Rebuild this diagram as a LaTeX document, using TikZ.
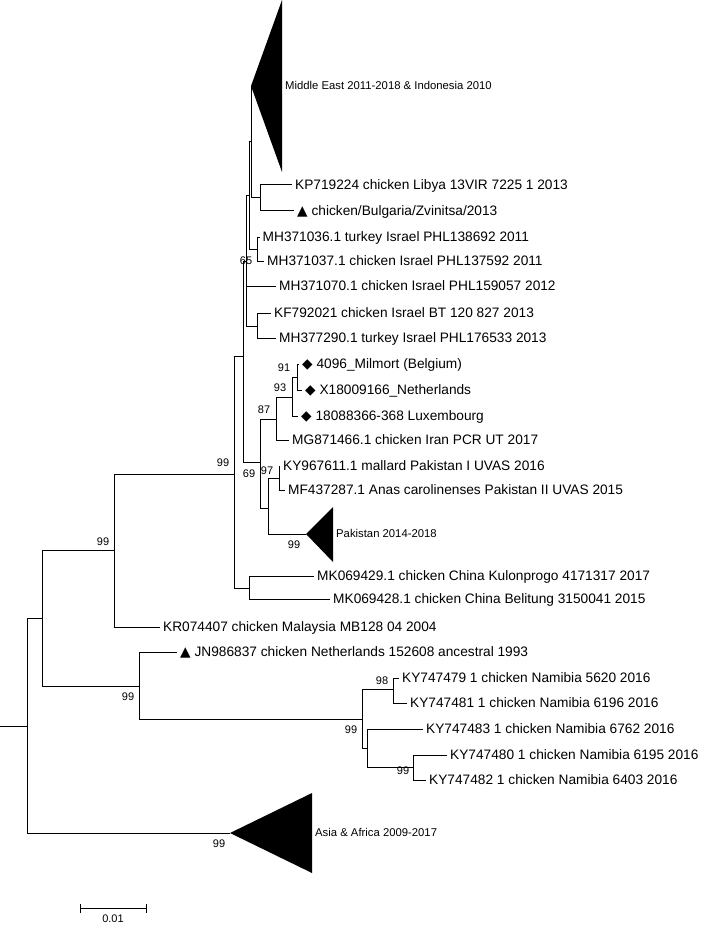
\documentclass[tikz,border=0pt]{standalone}
\usepackage{fontspec}
\setmainfont{Liberation Sans}
\newfontfamily\symb{DejaVu Sans}
\usetikzlibrary{positioning}

\begin{document}
\begin{tikzpicture}[x=1pt, y=-1pt,
        ast/.style={draw=black, line width=1pt},
        blatt/.style={anchor=west, inner sep=3pt, text height=9.8pt, text depth=0pt,
                      font=\fontsize{13.7}{15}\selectfont},
        stuetze/.style={inner sep=0pt, text height=7.9pt, text depth=0pt,
                        font=\fontsize{11}{12}\selectfont},
        klade/.style={anchor=west, inner sep=2pt, text height=7.9pt, text depth=0pt,
                      font=\fontsize{11.3}{12}\selectfont},
        klad/.style={fill=black}
    ]
        \useasboundingbox (0,0) rectangle (709,925);

        % innere Knoten
        \coordinate (w)   at (0,726);
        \coordinate (r)   at (27,726);
        \coordinate (a)   at (42,618);
        \coordinate (b)   at (114,550);
        \coordinate (c)   at (139,686);
        \coordinate (d)   at (234,474);
        \coordinate (e)   at (243,356);
        \coordinate (h)   at (246,261);
        \coordinate (i)   at (249,196);
        \coordinate (g)   at (251,142);
        \coordinate (kpn) at (260,198);
        \coordinate (ip)  at (257,249);
        \coordinate (kfn) at (257,326);
        \coordinate (f)   at (260,462);
        \coordinate (j)   at (276,419);
        \coordinate (k)   at (292,397);
        \coordinate (l)   at (297,377);
        \coordinate (m)   at (268,508);
        \coordinate (nn)  at (279,478);
        \coordinate (mk)  at (249,588);
        \coordinate (o)   at (362,719);
        \coordinate (p)   at (393,689);
        \coordinate (q)   at (367,748);
        \coordinate (rr)  at (413,767);
        \coordinate (me)  at (251,86);
        \coordinate (pak) at (306,534);
        \coordinate (asia)at (230,833);

        % kollabierte Kladen
        \fill[klad] (me) -- (282,0) -- (282,172) -- cycle;
        \fill[klad] (pak) -- (333,507) -- (333,562) -- cycle;
        \fill[klad] (asia) -- (312,793) -- (312,873) -- cycle;
        \node[klade] (mel) at (283,86)  {Middle East 2011-2018 \& Indonesia 2010};
        \node[klade] (pkl) at (334,534) {Pakistan 2014-2018};
        \node[klade] (asl) at (313,833) {Asia \& Africa 2009-2017};

        % Blaetter
        \node[blatt] (kp) at (292,185) {KP719224 chicken Libya 13VIR 7225 1 2013};
        \node[blatt] (bg) at (294,211) {{\symb ▲}\ chicken/Bulgaria/Zvinitsa/2013};
        \node[blatt] (i1) at (259.5,237) {MH371036.1 turkey Israel PHL138692 2011};
        \node[blatt] (i2) at (264,261) {MH371037.1 chicken Israel PHL137592 2011};
        \node[blatt] (i3) at (276,286) {MH371070.1 chicken Israel PHL159057 2012};
        \node[blatt] (kf) at (271,313) {KF792021 chicken Israel BT 120 827 2013};
        \node[blatt] (i4) at (276,338) {MH377290.1 turkey Israel PHL176533 2013};
        \node[blatt] (be) at (299,364) {{\symb ◆}\ 4096\_Milmort (Belgium)};
        \node[blatt] (nl) at (302,390) {{\symb ◆}\ X18009166\_Netherlands};
        \node[blatt] (lu) at (298,416) {{\symb ◆}\ 18088366-368 Luxembourg};
        \node[blatt] (ir) at (289,440) {MG871466.1 chicken Iran PCR UT 2017};
        \node[blatt] (p1) at (280,466) {KY967611.1 mallard Pakistan I UVAS 2016};
        \node[blatt] (p2) at (285,490) {MF437287.1 Anas carolinenses Pakistan II UVAS 2015};
        \node[blatt] (c1) at (314,576) {MK069429.1 chicken China Kulonprogo 4171317 2017};
        \node[blatt] (c2) at (330,599) {MK069428.1 chicken China Belitung 3150041 2015};
        \node[blatt] (my) at (160,627) {KR074407 chicken Malaysia MB128 04 2004};
        \node[blatt] (jn) at (177,652) {{\symb ▲}\ JN986837 chicken Netherlands 152608 ancestral 1993};
        \node[blatt] (n1) at (399,678) {KY747479 1 chicken Namibia 5620 2016};
        \node[blatt] (n2) at (407,703) {KY747481 1 chicken Namibia 6196 2016};
        \node[blatt] (n3) at (423,729) {KY747483 1 chicken Namibia 6762 2016};
        \node[blatt] (n4) at (447,755) {KY747480 1 chicken Namibia 6195 2016};
        \node[blatt] (n5) at (426,780) {KY747482 1 chicken Namibia 6403 2016};

        % Aeste
        \draw[ast] (w) -- (r);
        \foreach \u/\v in {r/a, r/asia, a/b, a/c, b/d, d/e, d/mk, e/h, e/f,
                           h/i, h/kfn, i/g, i/ip, g/me, g/kpn, f/j, f/m,
                           j/k, k/l, m/nn, m/pak, c/o, o/p, o/q, q/rr}
            \draw[ast] (\u) |- (\v);
        \foreach \u/\v in {b/my, h/i3, kpn/kp, kpn/bg, ip/i1, ip/i2, kfn/kf, kfn/i4,
                           j/ir, k/lu, l/be, l/nl, nn/p1, nn/p2, mk/c1, mk/c2,
                           c/jn, p/n1, p/n2, q/n3, rr/n4, rr/n5}
            \draw[ast] (\u) |- (\v.west);

        % Bootstrap-Werte
        \foreach \n/\x/\y/\t in {1/223/463/99, 2/103/542/99, 3/128/697/99, 4/351/730/99,
                                 5/382/681/98, 6/403/771/99, 7/219/844/99, 8/294/545/99,
                                 9/249/474/69, 10/267/471/97, 11/264/410/87, 12/280/388/93,
                                 13/284/368/91, 14/246/261/65}
            \node[stuetze] (bs\n) at (\x,\y) {\t};

        % Massstab
        \coordinate (s1) at (80,908);
        \coordinate (s2) at (146,908);
        \draw[ast] (s1) -- (s2);
        \draw[ast] ([yshift=4.5pt]s1) -- ([yshift=-4.5pt]s1);
        \draw[ast] ([yshift=4.5pt]s2) -- ([yshift=-4.5pt]s2);
        \node[stuetze, below=6pt of s1, xshift=33pt] (sl) {0.01};
    \end{tikzpicture}
\end{document}
